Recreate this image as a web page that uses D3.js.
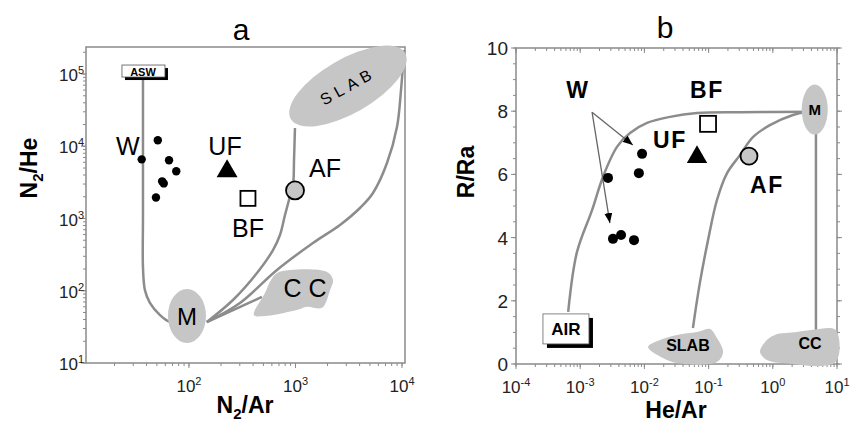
<!DOCTYPE html>
<html>
<head>
<meta charset="utf-8">
<script src="https://cdn.jsdelivr.net/npm/d3@7"></script>
<style>
body { margin: 0; background: #fff; }
text { font-family: "Liberation Sans", Arial, sans-serif; }
</style>
</head>
<body>
<div id="chart"></div>
<script>
// ---- panel a : N2/He vs N2/Ar (log-log) ----
var aXDomain = [10.8, 10670];
var aYDomain = [10, 236600];
var aXTicks = [100, 1000, 10000];
var aYTicks = [10, 100, 1000, 10000, 100000];
var aW = [[51, 12100], [36, 6590], [65, 6400], [76, 4500], [56, 3270], [58, 3060], [49, 1950]];
var aUF = [228, 4500];
var aBF = [358, 1900];
var aAF = [990, 2450];
var aM = [95.8, 44.8];
var aSlab = [3110, 68200];
var aAsw = [37, 110000];
var aAswLine = [[37, 91000], [37, 10000], [37, 1000], [37, 213], [38.6, 102], [43, 68], [53.5, 46], [66, 37], [82, 35]];
var aAfLine = [[147, 36.9], [259, 74.5], [435, 176], [615, 366], [715, 592], [797, 1117], [869, 1803], [948, 2911], [969, 6460], [989, 17900]];
var aOuterLine = [[147, 36.9], [301, 67.6], [670, 194], [1459, 458], [2617, 813], [4120, 1443], [5340, 2254], [7230, 5860], [8970, 18450], [9790, 60100], [10450, 214800]];
var aCcLine = [[147, 36.9], [484, 82]];
var aCcBlob = [[407, 46], [517, 93], [589, 141], [670, 176], [887, 194], [1977, 182], [2250, 141], [2110, 102],
               [1774, 58], [1282, 60], [1032, 54], [764, 49], [540, 45]];
var aLabels = [["W", 26.7, 10070], ["UF", 218, 10070], ["AF", 1892, 5000], ["BF", 358, 740], ["C C", 1228, 109]];

// ---- panel b : R/Ra vs He/Ar ----
var bXDomain = [1e-4, 10];
var bYDomain = [0, 10];
var bXTicks = [1e-4, 1e-3, 1e-2, 1e-1, 1, 10];
var bYTicks = [0, 2, 4, 6, 8, 10];
var bW = [[0.0092, 6.65], [0.0082, 6.04], [0.00271, 5.89], [0.00324, 3.96], [0.00433, 4.08], [0.00689, 3.92]];
var bUF = [0.066, 6.55];
var bBF = [0.098, 7.6];
var bAF = [0.426, 6.58];
var bM = [4.5, 8.05];
var bAir = [6.0e-4, 1.11];
var bAirLine = [[6.5e-4, 1.65], [8.9e-4, 3.54], [1.53e-3, 4.87], [2.26e-3, 5.92], [3.74e-3, 6.87], [5.97e-3, 7.31],
                [0.011, 7.63], [0.025, 7.82], [0.066, 7.94], [0.31, 7.97], [4.5, 7.98]];
var bSlabLine = [[0.057, 1.14], [0.073, 2.56], [0.098, 3.92], [0.135, 5.19], [0.194, 6.04], [0.308, 6.61],
                 [0.49, 7.18], [0.90, 7.56], [2.06, 7.88], [3.2, 7.97], [4.5, 7.98]];
var bCcLine = [[4.7, 7.98], [4.7, 1.08]];
var bSlabBlob = [[0.0114, 0.54], [0.0175, 0.76], [0.0322, 0.92], [0.066, 1.01], [0.105, 1.11], [0.135, 0.82],
                 [0.168, 0.38], [0.135, 0.06], [0.0322, 0.03], [0.0195, 0.19]];
var bCcBlob = [[0.632, 0.38], [0.757, 0.70], [1.08, 0.92], [2.38, 1.01], [4.23, 1.08], [9.5, 1.08], [9.5, 0.06],
               [1.44, 0.03], [0.81, 0.13]];
var bArrowFrom = [1.53e-3, 7.97];
var bArrowTo = [[6.6e-3, 6.93], [2.9e-3, 4.46]];
var bLabels = [["W", 9.2e-4, 8.67], ["BF", 0.094, 8.67], ["UF", 0.025, 7.09], ["AF", 0.81, 5.66]];
var bBlobLabels = [["SLAB", 0.0477, 0.60], ["CC", 3.8, 0.66]];

var lineGray = "#8c8c8c";
var fillGray = "#c6c6c6";
var frameGray = "#8a8a8a";

var svg = d3.select("#chart").append("svg")
    .attr("width", 862)
    .attr("height", 427);

svg.append("defs").append("marker")
    .attr("id", "arrow")
    .attr("viewBox", "0 0 10 8")
    .attr("refX", 10).attr("refY", 4)
    .attr("markerWidth", 10).attr("markerHeight", 8)
    .attr("markerUnits", "userSpaceOnUse")
    .attr("orient", "auto")
    .append("path").attr("d", "M0,0 L10,4 L0,8 Z").attr("fill", "#000");

function expLabel(sel, v) {
    var e = Math.round(Math.log10(v));
    sel.append("tspan").text("10");
    sel.append("tspan").attr("dy", -7).style("font-size", "11px").text(e);
}

function ticks(g, scale, vals, axis, pos, len) {
    vals.forEach(function (v) {
        var p = scale(v);
        var ln = g.append("line").attr("stroke", frameGray).attr("stroke-width", 1);
        if (axis == "x") ln.attr("x1", p).attr("x2", p).attr("y1", pos).attr("y2", pos + len);
        else ln.attr("y1", p).attr("y2", p).attr("x1", pos).attr("x2", pos + len);
    });
}

function drawPoints(g, x, y, pts, r) {
    g.selectAll(null).data(pts).enter().append("circle")
        .attr("cx", function (d) { return x(d[0]); })
        .attr("cy", function (d) { return y(d[1]); })
        .attr("r", r)
        .attr("fill", "#000");
}

// ================= panel a =================
var xA = d3.scaleLog().domain(aXDomain).range([86, 405]);
var yA = d3.scaleLog().domain(aYDomain).range([363, 47]);
var gA = svg.append("g");

var lineA = d3.line().x(function (d) { return xA(d[0]); }).y(function (d) { return yA(d[1]); })
    .curve(d3.curveCatmullRom);
var blobA = d3.line().x(function (d) { return xA(d[0]); }).y(function (d) { return yA(d[1]); })
    .curve(d3.curveCatmullRomClosed);

gA.append("rect").attr("x", 86).attr("y", 47).attr("width", 319).attr("height", 316)
    .attr("fill", "none").attr("stroke", frameGray).attr("stroke-width", 1.5);

ticks(gA, xA, xA.ticks(), "x", 363, 3);
ticks(gA, xA, aXTicks, "x", 363, 5);
ticks(gA, yA, yA.ticks(), "y", 86, -3);
ticks(gA, yA, aYTicks, "y", 86, -5);

aXTicks.forEach(function (v) {
    var t = gA.append("text").attr("x", xA(v)).attr("y", 392).attr("text-anchor", "middle")
        .style("font-size", "17px").attr("fill", "#222");
    expLabel(t, v);
});
aYTicks.forEach(function (v) {
    var t = gA.append("text").attr("x", 84).attr("y", yA(v) + 7).attr("text-anchor", "end")
        .style("font-size", "17px").attr("fill", "#222");
    expLabel(t, v);
});

[aAswLine, aAfLine, aOuterLine, aCcLine].forEach(function (l) {
    gA.append("path").attr("d", lineA(l)).attr("fill", "none")
        .attr("stroke", lineGray).attr("stroke-width", 2.5);
});

gA.append("path").attr("d", blobA(aCcBlob)).attr("fill", fillGray);
gA.append("ellipse").attr("cx", xA(aM[0])).attr("cy", yA(aM[1])).attr("rx", 19).attr("ry", 27).attr("fill", fillGray);
gA.append("ellipse").attr("cx", xA(aSlab[0])).attr("cy", yA(aSlab[1])).attr("rx", 66).attr("ry", 27)
    .attr("transform", "rotate(-30," + xA(aSlab[0]) + "," + yA(aSlab[1]) + ")").attr("fill", fillGray);

gA.append("text").attr("x", xA(aSlab[0])).attr("y", yA(aSlab[1])).attr("dy", "0.35em")
    .attr("text-anchor", "middle").style("font-size", "16px").style("letter-spacing", "5px")
    .attr("transform", "rotate(-29," + xA(aSlab[0]) + "," + yA(aSlab[1]) + ")").text("SLAB");
gA.append("text").attr("x", xA(aM[0])).attr("y", yA(aM[1])).attr("dy", "0.36em")
    .attr("text-anchor", "middle").style("font-size", "24px").text("M");

// ASW box
var ax = xA(aAsw[0]), ay = yA(aAsw[1]);
gA.append("rect").attr("x", ax - 21 + 3).attr("y", ay - 6 + 3).attr("width", 43).attr("height", 12).attr("fill", "#000");
gA.append("rect").attr("x", ax - 21).attr("y", ay - 6).attr("width", 43).attr("height", 12)
    .attr("fill", "#fff").attr("stroke", "#555").attr("stroke-width", 0.8);
gA.append("text").attr("x", ax).attr("y", ay + 4.5).attr("text-anchor", "middle")
    .style("font-size", "11px").style("font-weight", "bold").text("ASW");

drawPoints(gA, xA, yA, aW, 4.2);
gA.append("path").attr("d", d3.symbol(d3.symbolTriangle, 190)())
    .attr("transform", "translate(" + xA(aUF[0]) + "," + yA(aUF[1]) + ")").attr("fill", "#000");
gA.append("rect").attr("x", xA(aBF[0]) - 7.5).attr("y", yA(aBF[1]) - 7.5).attr("width", 15).attr("height", 15)
    .attr("fill", "#fff").attr("stroke", "#000").attr("stroke-width", 1.8);
gA.append("circle").attr("cx", xA(aAF[0])).attr("cy", yA(aAF[1])).attr("r", 9)
    .attr("fill", fillGray).attr("stroke", "#000").attr("stroke-width", 1.8);

gA.selectAll(null).data(aLabels).enter().append("text")
    .attr("x", function (d) { return xA(d[1]); })
    .attr("y", function (d) { return yA(d[2]); })
    .attr("dy", "0.36em").attr("text-anchor", "middle")
    .style("font-size", "25px")
    .text(function (d) { return d[0]; });

gA.append("text").attr("x", 241).attr("y", 40).attr("text-anchor", "middle").style("font-size", "30px").text("a");

var tA = gA.append("text").attr("x", 245).attr("y", 413).attr("text-anchor", "middle")
    .style("font-size", "23px").style("font-weight", "bold");
tA.append("tspan").text("N");
tA.append("tspan").attr("dy", 6).style("font-size", "15px").text("2");
tA.append("tspan").attr("dy", -6).text("/Ar");

var tA2 = gA.append("text").attr("transform", "translate(37,168) rotate(-90)").attr("text-anchor", "middle")
    .style("font-size", "23px").style("font-weight", "bold");
tA2.append("tspan").text("N");
tA2.append("tspan").attr("dy", 6).style("font-size", "15px").text("2");
tA2.append("tspan").attr("dy", -6).text("/He");

// ================= panel b =================
var xB = d3.scaleLog().domain(bXDomain).range([516, 837]);
var yB = d3.scaleLinear().domain(bYDomain).range([364, 48]);
var gB = svg.append("g");

var lineB = d3.line().x(function (d) { return xB(d[0]); }).y(function (d) { return yB(d[1]); })
    .curve(d3.curveCatmullRom);
var blobB = d3.line().x(function (d) { return xB(d[0]); }).y(function (d) { return yB(d[1]); })
    .curve(d3.curveCatmullRomClosed);

gB.append("rect").attr("x", 516).attr("y", 48).attr("width", 321).attr("height", 316)
    .attr("fill", "none").attr("stroke", frameGray).attr("stroke-width", 1.5);

var bYMinor = yB.ticks(20);
ticks(gB, xB, xB.ticks(), "x", 364, 3);
ticks(gB, xB, bXTicks, "x", 364, 5);
ticks(gB, xB, xB.ticks(), "x", 48, 3);
ticks(gB, xB, bXTicks, "x", 48, 5);
ticks(gB, yB, bYMinor, "y", 516, -3);
ticks(gB, yB, bYTicks, "y", 516, -5);
ticks(gB, yB, bYMinor, "y", 837, 3);
ticks(gB, yB, bYTicks, "y", 837, 5);

bXTicks.forEach(function (v) {
    var t = gB.append("text").attr("x", xB(v)).attr("y", 393).attr("text-anchor", "middle")
        .style("font-size", "17px").attr("fill", "#222");
    expLabel(t, v);
});
bYTicks.forEach(function (v) {
    gB.append("text").attr("x", 508).attr("y", yB(v) + 7).attr("text-anchor", "end")
        .style("font-size", "19px").attr("fill", "#222").text(v);
});

[bAirLine, bSlabLine, bCcLine].forEach(function (l) {
    gB.append("path").attr("d", lineB(l)).attr("fill", "none")
        .attr("stroke", lineGray).attr("stroke-width", 2.5);
});

gB.append("path").attr("d", blobB(bSlabBlob)).attr("fill", fillGray);
gB.append("path").attr("d", blobB(bCcBlob)).attr("fill", fillGray);
gB.append("ellipse").attr("cx", xB(bM[0])).attr("cy", yB(bM[1])).attr("rx", 13).attr("ry", 25).attr("fill", fillGray);
gB.append("text").attr("x", xB(bM[0])).attr("y", yB(bM[1])).attr("dy", "0.36em")
    .attr("text-anchor", "middle").style("font-size", "15px").style("font-weight", "bold").text("M");

gB.selectAll(null).data(bBlobLabels).enter().append("text")
    .attr("x", function (d) { return xB(d[1]); })
    .attr("y", function (d) { return yB(d[2]); })
    .attr("dy", "0.36em").attr("text-anchor", "middle")
    .style("font-size", "16px").style("font-weight", "bold")
    .text(function (d) { return d[0]; });

// AIR box
var bx = xB(bAir[0]), by = yB(bAir[1]);
gB.append("rect").attr("x", bx - 23 + 4).attr("y", by - 15 + 4).attr("width", 46).attr("height", 30).attr("fill", "#000");
gB.append("rect").attr("x", bx - 23).attr("y", by - 15).attr("width", 46).attr("height", 30)
    .attr("fill", "#fff").attr("stroke", "#666").attr("stroke-width", 0.8);
gB.append("text").attr("x", bx).attr("y", by + 6).attr("text-anchor", "middle")
    .style("font-size", "17px").style("font-weight", "bold").text("AIR");

bArrowTo.forEach(function (d) {
    gB.append("line")
        .attr("x1", xB(bArrowFrom[0])).attr("y1", yB(bArrowFrom[1]))
        .attr("x2", xB(d[0])).attr("y2", yB(d[1]))
        .attr("stroke", "#666").attr("stroke-width", 1.3)
        .attr("marker-end", "url(#arrow)");
});

drawPoints(gB, xB, yB, bW, 5);
gB.append("path").attr("d", d3.symbol(d3.symbolTriangle, 180)())
    .attr("transform", "translate(" + xB(bUF[0]) + "," + yB(bUF[1]) + ")").attr("fill", "#000");
gB.append("rect").attr("x", xB(bBF[0]) - 8).attr("y", yB(bBF[1]) - 8).attr("width", 16).attr("height", 16)
    .attr("fill", "#fff").attr("stroke", "#000").attr("stroke-width", 1.8);
gB.append("circle").attr("cx", xB(bAF[0])).attr("cy", yB(bAF[1])).attr("r", 8.5)
    .attr("fill", fillGray).attr("stroke", "#000").attr("stroke-width", 1.8);

gB.selectAll(null).data(bLabels).enter().append("text")
    .attr("x", function (d) { return xB(d[1]); })
    .attr("y", function (d) { return yB(d[2]); })
    .attr("dy", "0.36em").attr("text-anchor", "middle")
    .style("font-size", "23px").style("font-weight", "bold").style("letter-spacing", "1.5px")
    .text(function (d) { return d[0]; });

gB.append("text").attr("x", 665).attr("y", 38).attr("text-anchor", "middle").style("font-size", "30px").text("b");

gB.append("text").attr("x", 676).attr("y", 418).attr("text-anchor", "middle")
    .style("font-size", "23px").style("font-weight", "bold").text("He/Ar");
gB.append("text").attr("transform", "translate(474,172) rotate(-90)").attr("text-anchor", "middle")
    .style("font-size", "23px").style("font-weight", "bold").text("R/Ra");
</script>
</body>
</html>
